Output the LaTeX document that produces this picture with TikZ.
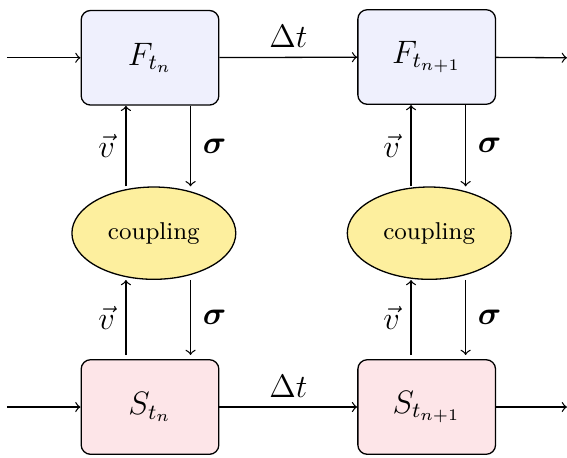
\documentclass[tikz,border=0pt]{standalone}
\usepackage{amsmath}
\usepackage{tikz}
\usetikzlibrary{shapes.geometric,positioning,calc}
\definecolor{cpFluid}{HTML}{EFF0FD}
\definecolor{cpStruct}{HTML}{FDE5E8}
\definecolor{cpCouple}{HTML}{FDEF9E}
\tikzset{
  cp/.style={font=\large, line width=.48pt, >=to},
  box/.style={draw=black, rounded corners=3.5pt, align=center, minimum width=17.9mm, minimum height=12.3mm},
  fluid/.style={box, fill=cpFluid},
  struct/.style={box, fill=cpStruct},
  couple/.style={draw=black, fill=cpCouple, ellipse, font=\small, minimum width=21.3mm, minimum height=12mm, inner sep=1pt},
  flow/.style={->, draw=black},
}

\begin{document}
\begin{tikzpicture}[cp]
\useasboundingbox (0,0) rectangle (7.371,5.941);
% rząd F
\node[fluid] (F1) at (1.95,5.19)  {$F_{t_n}$};
\node[fluid] (F2) at (5.547,5.2)  {$F_{t_{n+1}}$};
% sprzężenie
\node[couple] (cp1) at (2.0,2.91)  {coupling};
\node[couple] (cp2) at (5.58,2.91) {coupling};
% rząd S
\node[struct] (S1) at (1.95,0.65)  {$S_{t_n}$};
\node[struct] (S2) at (5.547,0.65) {$S_{t_{n+1}}$};
\coordinate (inF)  at (0.09,5.19);
\coordinate (outF) at (7.371,5.19);
\coordinate (inS)  at (0.09,0.65);
\coordinate (outS) at (7.371,0.65);

\draw[flow] (inF) -- (F1);
\draw[flow] (F1) -- node[midway,above] {$\Delta t$} (F2);
\draw[flow] (F2) -- (outF);
\draw[flow] (inS) -- (S1);
\draw[flow] (S1) -- node[midway,above] {$\Delta t$} (S2);
\draw[flow] (S2) -- (outS);

\draw[flow] ([xshift=-8.9pt]F1.south |- cp1.north) -- node[left=0.5pt] {$\vec{v}$} ([xshift=-8.9pt]F1.south);
\draw[flow] ([xshift=15pt]F1.south) -- node[right=1pt] {$\boldsymbol{\sigma}$} ([xshift=15pt]F1.south |- cp1.north);
\draw[flow] ([xshift=-5.8pt]F2.south |- cp2.north) -- node[left=0.5pt] {$\vec{v}$} ([xshift=-5.8pt]F2.south);
\draw[flow] ([xshift=14.4pt]F2.south) -- node[right=1pt] {$\boldsymbol{\sigma}$} ([xshift=14.4pt]F2.south |- cp2.north);

\draw[flow] ([xshift=-8.9pt,yshift=1.5pt]S1.north) -- node[left=0.5pt] {$\vec{v}$} ([xshift=-8.9pt]S1.north |- cp1.south);
\draw[flow] ([xshift=15pt]S1.north |- cp1.south) -- node[right=1pt] {$\boldsymbol{\sigma}$} ([xshift=15pt,yshift=1.5pt]S1.north);
\draw[flow] ([xshift=-5.8pt,yshift=1.5pt]S2.north) -- node[left=0.5pt] {$\vec{v}$} ([xshift=-5.8pt]S2.north |- cp2.south);
\draw[flow] ([xshift=14.4pt]S2.north |- cp2.south) -- node[right=1pt] {$\boldsymbol{\sigma}$} ([xshift=14.4pt,yshift=1.5pt]S2.north);
\end{tikzpicture}
\end{document}
